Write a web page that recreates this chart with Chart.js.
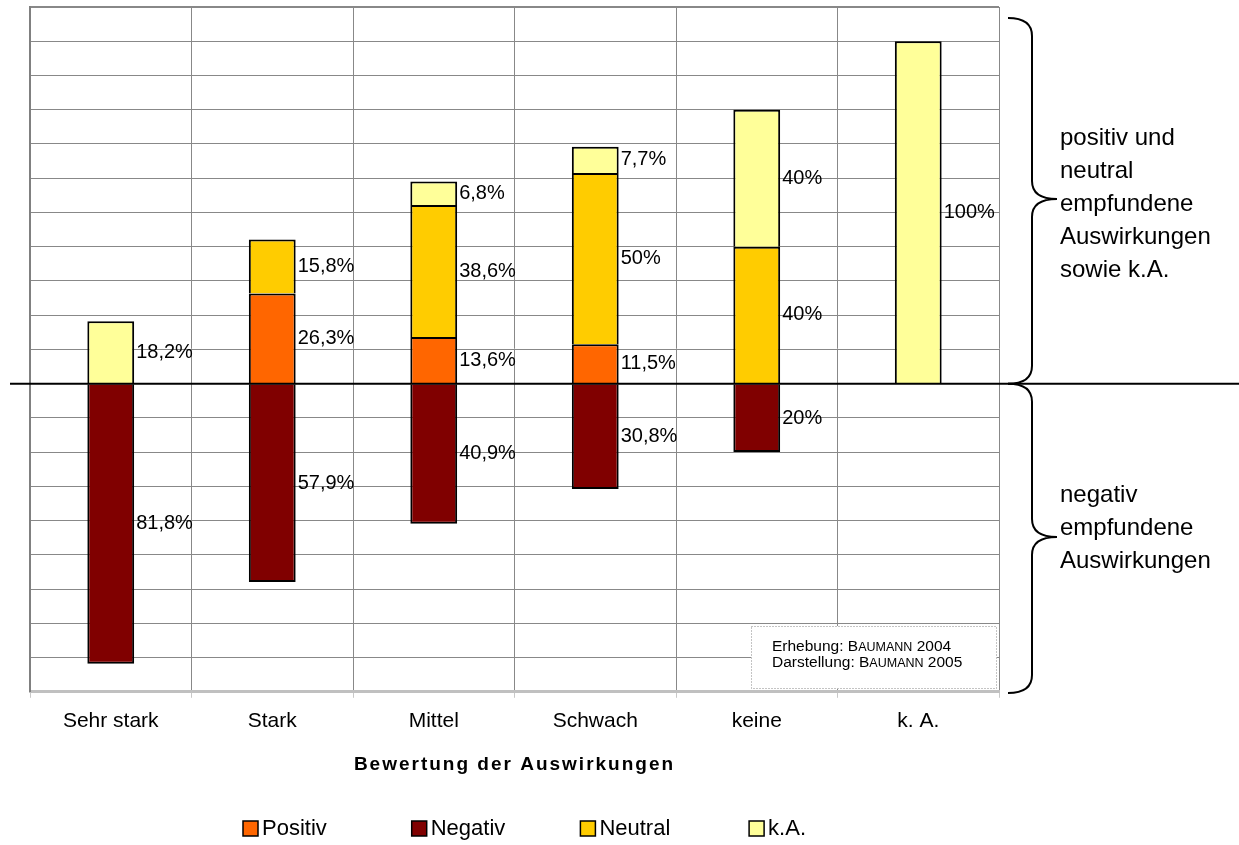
<!DOCTYPE html>
<html>
<head>
<meta charset="utf-8">
<script src="https://cdn.jsdelivr.net/npm/chart.js"></script>
<style>
  body { margin: 0; background: #fff; }
</style>
</head>
<body>
<canvas id="chart1" width="1239" height="845"></canvas>
<script>
// values (percent per category)
let categories = ['Sehr stark', 'Stark', 'Mittel', 'Schwach', 'keine', 'k. A.'];
let positiv = [null, 26.3, 13.6, 11.5, null, null];
let negativ = [-81.8, -57.9, -40.9, -30.8, -20, null];
let neutral = [null, 15.8, 38.6, 50, 40, null];
let keineAngabe = [18.2, null, 6.8, 7.7, 40, 100];
let seriesNames = ['Positiv', 'Negativ', 'Neutral', 'k.A.'];
let seriesColors = ['#FF6600', '#800000', '#FFCC00', '#FFFF99'];
let yMin = -90, yMax = 110, yStep = 10;

let fontFamily = '"Liberation Sans", Arial, sans-serif';
Chart.defaults.font.family = fontFamily;
Chart.defaults.color = '#000';

function fmt(v) {
    return String(Math.abs(v)).replace('.', ',') + '%';
}

// curly brace pointing right, from top to bottom
function brace(ctx, top, bottom, tipY) {
    let xl = 1008, xv = 1032, xt = 1057, r = 18;
    ctx.beginPath();
    ctx.moveTo(xl, top);
    ctx.quadraticCurveTo(xv, top, xv, top + r);
    ctx.lineTo(xv, tipY - r);
    ctx.quadraticCurveTo(xv, tipY, xt, tipY);
    ctx.quadraticCurveTo(xv, tipY, xv, tipY + r);
    ctx.lineTo(xv, bottom - r);
    ctx.quadraticCurveTo(xv, bottom, xl, bottom);
    ctx.stroke();
}

function smallCapsLine(ctx, parts, x, y) {
    parts.forEach(p => {
        ctx.font = p[1] + 'px ' + fontFamily;
        ctx.fillText(p[0], x, y);
        x += ctx.measureText(p[0]).width;
    });
}

let extras = {
    id: 'extras',
    afterDatasetsDraw(chart) {
        let ctx = chart.ctx;
        let yScale = chart.scales.y;
        ctx.save();

        // value labels right of each segment
        ctx.font = '20px ' + fontFamily;
        ctx.fillStyle = '#000';
        ctx.textAlign = 'left';
        ctx.textBaseline = 'middle';
        chart.data.datasets.forEach((ds, i) => {
            chart.getDatasetMeta(i).data.forEach((bar, j) => {
                let v = ds.data[j];
                if (v === null) return;
                let p = bar.getProps(['x', 'y', 'base', 'width'], true);
                ctx.fillText(fmt(v), p.x + p.width / 2 + 2, (p.y + p.base) / 2);
            });
        });

        // source note
        ctx.fillStyle = '#fff';
        ctx.fillRect(751, 626, 246, 63);
        ctx.strokeStyle = '#888';
        ctx.lineWidth = 1;
        ctx.setLineDash([1, 2]);
        ctx.strokeRect(751.5, 626.5, 245, 62);
        ctx.setLineDash([]);
        ctx.fillStyle = '#000';
        ctx.textBaseline = 'alphabetic';
        smallCapsLine(ctx, [['Erhebung: B', 15.5], ['AUMANN', 12.5], [' 2004', 15.5]], 772, 651);
        smallCapsLine(ctx, [['Darstellung: B', 15.5], ['AUMANN', 12.5], [' 2005', 15.5]], 772, 667);

        // zero line across the whole figure
        let y0 = yScale.getPixelForValue(0);
        ctx.strokeStyle = '#000';
        ctx.lineWidth = 2;
        ctx.beginPath();
        ctx.moveTo(10, y0);
        ctx.lineTo(1239, y0);
        ctx.stroke();

        // braces and side texts
        ctx.lineWidth = 2;
        brace(ctx, 18, y0, 199);
        brace(ctx, y0, 693, 537);
        ctx.font = '24px ' + fontFamily;
        let upper = ['positiv und', 'neutral', 'empfundene', 'Auswirkungen', 'sowie k.A.'];
        upper.forEach((t, i) => ctx.fillText(t, 1060, 145 + i * 33));
        let lower = ['negativ', 'empfundene', 'Auswirkungen'];
        lower.forEach((t, i) => ctx.fillText(t, 1060, 502 + i * 33));

        // axis title
        let area = chart.chartArea;
        ctx.font = 'bold 19px ' + fontFamily;
        ctx.letterSpacing = '2px';
        ctx.textAlign = 'center';
        ctx.textBaseline = 'middle';
        ctx.fillText('Bewertung der Auswirkungen', (area.left + area.right) / 2, 765);
        ctx.letterSpacing = '0px';

        // legend
        ctx.font = '22px ' + fontFamily;
        ctx.textAlign = 'left';
        chart.data.datasets.forEach((ds, i) => {
            let lx = 243 + i * 168.7;
            ctx.fillStyle = ds.backgroundColor;
            ctx.fillRect(lx, 821, 15, 15);
            ctx.strokeStyle = '#000';
            ctx.lineWidth = 1.5;
            ctx.strokeRect(lx, 821, 15, 15);
            ctx.fillStyle = '#000';
            ctx.fillText(ds.label, lx + 19, 829);
        });
        ctx.restore();
    }
};

function makeSet(i, data) {
    return {
        label: seriesNames[i],
        data: data,
        backgroundColor: seriesColors[i],
        borderColor: '#000',
        borderWidth: 2,
        borderSkipped: 'start',
        barPercentage: 0.29,
        categoryPercentage: 1
    };
}

let ctx1 = document.getElementById('chart1').getContext('2d');
let chart = new Chart(ctx1, {
    type: 'bar',
    data: {
        labels: categories,
        datasets: [
            makeSet(0, positiv),
            makeSet(1, negativ),
            makeSet(2, neutral),
            makeSet(3, keineAngabe)
        ]
    },
    options: {
        responsive: false,
        animation: false,
        layout: { padding: { left: 30, top: 7, right: 240, bottom: 100 } },
        plugins: {
            legend: { display: false },
            tooltip: { enabled: false }
        },
        scales: {
            x: {
                stacked: true,
                grid: { color: '#888', tickColor: '#c8c8c8', tickLength: 6, offset: true },
                border: { color: '#c0c0c0', width: 3 },
                ticks: { font: { size: 21 }, padding: 11, color: '#000' }
            },
            y: {
                stacked: true,
                min: yMin,
                max: yMax,
                ticks: { display: false, stepSize: yStep },
                grid: {
                    color: '#888',
                    drawTicks: false,
                    lineWidth: c => (c.tick && c.tick.value === yMax ? 2 : 1)
                },
                border: { color: '#808080', width: 2 }
            }
        }
    },
    plugins: [extras]
});
</script>
</body>
</html>
